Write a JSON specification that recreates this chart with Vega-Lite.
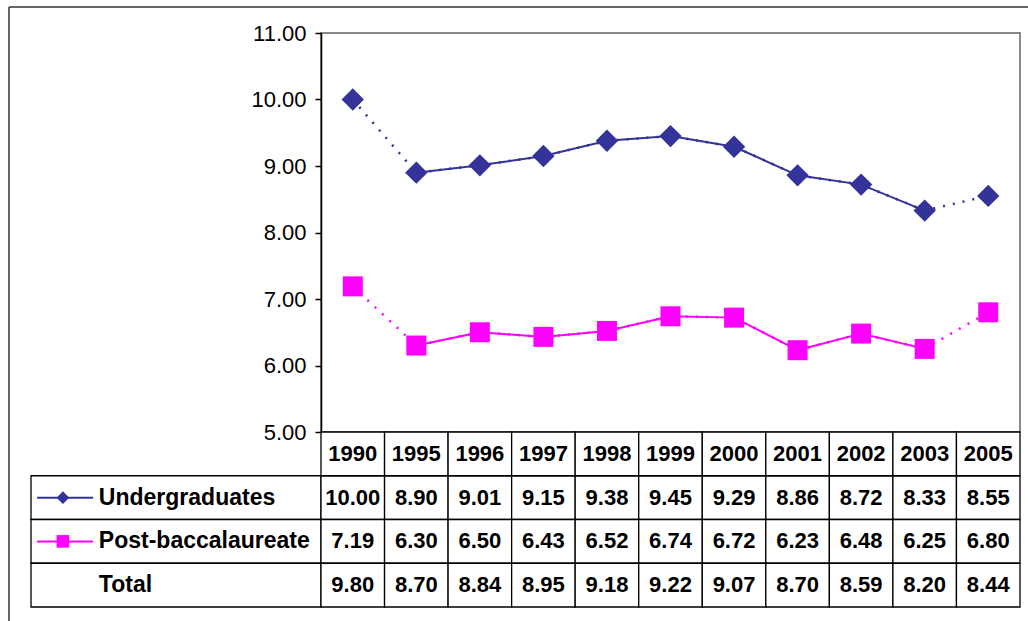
{
  "$schema": "https://vega.github.io/schema/vega-lite/v6.json",
  "padding": {"left": 8, "top": 6, "right": 0, "bottom": 0},
  "background": "white",
  "datasets": {
    "rates": [
      {"year": 1990, "series": "Undergraduates", "value": 10.00},
      {"year": 1995, "series": "Undergraduates", "value": 8.90},
      {"year": 1996, "series": "Undergraduates", "value": 9.01},
      {"year": 1997, "series": "Undergraduates", "value": 9.15},
      {"year": 1998, "series": "Undergraduates", "value": 9.38},
      {"year": 1999, "series": "Undergraduates", "value": 9.45},
      {"year": 2000, "series": "Undergraduates", "value": 9.29},
      {"year": 2001, "series": "Undergraduates", "value": 8.86},
      {"year": 2002, "series": "Undergraduates", "value": 8.72},
      {"year": 2003, "series": "Undergraduates", "value": 8.33},
      {"year": 2005, "series": "Undergraduates", "value": 8.55},
      {"year": 1990, "series": "Post-baccalaureate", "value": 7.19},
      {"year": 1995, "series": "Post-baccalaureate", "value": 6.30},
      {"year": 1996, "series": "Post-baccalaureate", "value": 6.50},
      {"year": 1997, "series": "Post-baccalaureate", "value": 6.43},
      {"year": 1998, "series": "Post-baccalaureate", "value": 6.52},
      {"year": 1999, "series": "Post-baccalaureate", "value": 6.74},
      {"year": 2000, "series": "Post-baccalaureate", "value": 6.72},
      {"year": 2001, "series": "Post-baccalaureate", "value": 6.23},
      {"year": 2002, "series": "Post-baccalaureate", "value": 6.48},
      {"year": 2003, "series": "Post-baccalaureate", "value": 6.25},
      {"year": 2005, "series": "Post-baccalaureate", "value": 6.80},
      {"year": 1990, "series": "Total", "value": 9.80},
      {"year": 1995, "series": "Total", "value": 8.70},
      {"year": 1996, "series": "Total", "value": 8.84},
      {"year": 1997, "series": "Total", "value": 8.95},
      {"year": 1998, "series": "Total", "value": 9.18},
      {"year": 1999, "series": "Total", "value": 9.22},
      {"year": 2000, "series": "Total", "value": 9.07},
      {"year": 2001, "series": "Total", "value": 8.70},
      {"year": 2002, "series": "Total", "value": 8.59},
      {"year": 2003, "series": "Total", "value": 8.20},
      {"year": 2005, "series": "Total", "value": 8.44}
    ]
  },
  "columns": 2,
  "spacing": 0,
  "bounds": "flush",
  "align": "each",
  "concat": [
    {
      "data": {"values": [{"frame": "chart border"}]},
      "width": 290,
      "height": 399,
      "encoding": {
        "x": {"datum": -0.0759, "type": "quantitative", "scale": {"domain": [0, 1]}, "axis": null},
        "y": {"datum": 1.0652, "type": "quantitative", "scale": {"domain": [0, 1]}, "axis": null}
      },
      "layer": [
        {
          "mark": {"type": "rule", "stroke": "#333333", "strokeWidth": 1.5},
          "encoding": {"y2": {"datum": -0.48}}
        },
        {
          "mark": {"type": "rule", "stroke": "#333333", "strokeWidth": 1.5},
          "encoding": {"x2": {"datum": 3.44}}
        }
      ]
    },
    {
      "data": {"name": "rates"},
      "width": 699,
      "height": 399,
      "view": {"stroke": "#888888", "strokeWidth": 2},
      "transform": [{"filter": "datum.series !== 'Total'"}],
      "encoding": {
        "x": {
          "field": "year",
          "type": "ordinal",
          "scale": {"paddingInner": 0, "paddingOuter": 0},
          "axis": null
        },
        "y": {
          "field": "value",
          "type": "quantitative",
          "scale": {"domain": [5, 11], "nice": false, "zero": false},
          "axis": {
            "values": [5, 6, 7, 8, 9, 10, 11],
            "format": ".2f",
            "title": null,
            "grid": false,
            "labelFont": "Liberation Sans",
            "labelFontSize": 22,
            "labelColor": "#000000",
            "labelPadding": 9,
            "tickSize": 6,
            "tickColor": "#000000",
            "tickWidth": 1.5,
            "domainColor": "#000000",
            "domainWidth": 1.5
          }
        },
        "color": {
          "field": "series",
          "type": "nominal",
          "scale": {
            "domain": ["Undergraduates", "Post-baccalaureate"],
            "range": ["#333399", "#FF00FF"]
          },
          "legend": null
        }
      },
      "layer": [
        {
          "mark": {"type": "line", "strokeWidth": 2.5, "strokeDash": [2, 8]}
        },
        {
          "transform": [{"filter": "datum.year >= 1995 && datum.year <= 2003"}],
          "mark": {"type": "line", "strokeWidth": 2}
        },
        {
          "mark": {"type": "point", "filled": true, "opacity": 1},
          "encoding": {
            "shape": {
              "field": "series",
              "type": "nominal",
              "scale": {
                "domain": ["Undergraduates", "Post-baccalaureate"],
                "range": ["diamond", "square"]
              },
              "legend": null
            },
            "size": {
              "field": "series",
              "type": "nominal",
              "scale": {
                "domain": ["Undergraduates", "Post-baccalaureate"],
                "range": [500, 400]
              },
              "legend": null
            }
          }
        }
      ]
    },
    {
      "data": {"name": "rates"},
      "width": 290,
      "height": 175,
      "transform": [{"filter": "datum.year === 1990"}],
      "encoding": {
        "y": {
          "field": "series",
          "type": "nominal",
          "scale": {
            "domain": ["Year", "Undergraduates", "Post-baccalaureate", "Total"],
            "paddingInner": 0,
            "paddingOuter": 0
          },
          "axis": null
        }
      },
      "layer": [
        {
          "mark": {"type": "rect", "fill": "white", "stroke": "#000000", "strokeWidth": 1.3},
          "encoding": {
            "x": {"datum": 0, "type": "quantitative", "scale": {"domain": [0, 1]}, "axis": null},
            "x2": {"datum": 1}
          }
        },
        {
          "transform": [{"filter": "datum.series !== 'Total'"}],
          "mark": {"type": "rule", "strokeWidth": 2},
          "encoding": {
            "x": {"datum": 0.021, "type": "quantitative"},
            "x2": {"datum": 0.214},
            "color": {
              "field": "series",
              "type": "nominal",
              "scale": {
                "domain": ["Undergraduates", "Post-baccalaureate"],
                "range": ["#333399", "#FF00FF"]
              },
              "legend": null
            }
          }
        },
        {
          "transform": [{"filter": "datum.series !== 'Total'"}],
          "mark": {"type": "point", "filled": true, "opacity": 1},
          "encoding": {
            "x": {"datum": 0.11, "type": "quantitative"},
            "color": {
              "field": "series",
              "type": "nominal",
              "scale": {
                "domain": ["Undergraduates", "Post-baccalaureate"],
                "range": ["#333399", "#FF00FF"]
              },
              "legend": null
            },
            "shape": {
              "field": "series",
              "type": "nominal",
              "scale": {
                "domain": ["Undergraduates", "Post-baccalaureate"],
                "range": ["diamond", "square"]
              },
              "legend": null
            },
            "size": {"value": 160}
          }
        },
        {
          "mark": {
            "type": "text",
            "align": "left",
            "font": "Liberation Sans",
            "fontWeight": "bold",
            "fontSize": 23,
            "color": "#000000"
          },
          "encoding": {
            "x": {"datum": 0.234, "type": "quantitative"},
            "text": {"field": "series", "type": "nominal"}
          }
        }
      ]
    },
    {
      "data": {"name": "rates"},
      "width": 699,
      "height": 175,
      "encoding": {
        "x": {
          "field": "year",
          "type": "ordinal",
          "scale": {"paddingInner": 0, "paddingOuter": 0},
          "axis": null
        }
      },
      "layer": [
        {
          "mark": {"type": "rect", "fill": "white", "stroke": "#000000", "strokeWidth": 1.3},
          "encoding": {
            "y": {
              "field": "series",
              "type": "nominal",
              "scale": {
                "domain": ["Year", "Undergraduates", "Post-baccalaureate", "Total"],
                "paddingInner": 0,
                "paddingOuter": 0
              },
              "axis": null
            }
          }
        },
        {
          "transform": [{"filter": "datum.series === 'Total'"}],
          "mark": {"type": "rect", "fill": "white", "stroke": "#000000", "strokeWidth": 1.3},
          "encoding": {"y": {"datum": "Year", "type": "nominal"}}
        },
        {
          "mark": {
            "type": "text",
            "font": "Liberation Sans",
            "fontWeight": "bold",
            "fontSize": 22,
            "color": "#000000"
          },
          "encoding": {
            "y": {"field": "series", "type": "nominal"},
            "text": {"field": "value", "type": "quantitative", "format": ".2f"}
          }
        },
        {
          "transform": [{"filter": "datum.series === 'Total'"}],
          "mark": {
            "type": "text",
            "font": "Liberation Sans",
            "fontWeight": "bold",
            "fontSize": 22,
            "color": "#000000"
          },
          "encoding": {
            "y": {"datum": "Year", "type": "nominal"},
            "text": {"field": "year", "type": "ordinal"}
          }
        }
      ]
    }
  ],
  "config": {
    "view": {"stroke": null},
    "font": "Liberation Sans"
  }
}
